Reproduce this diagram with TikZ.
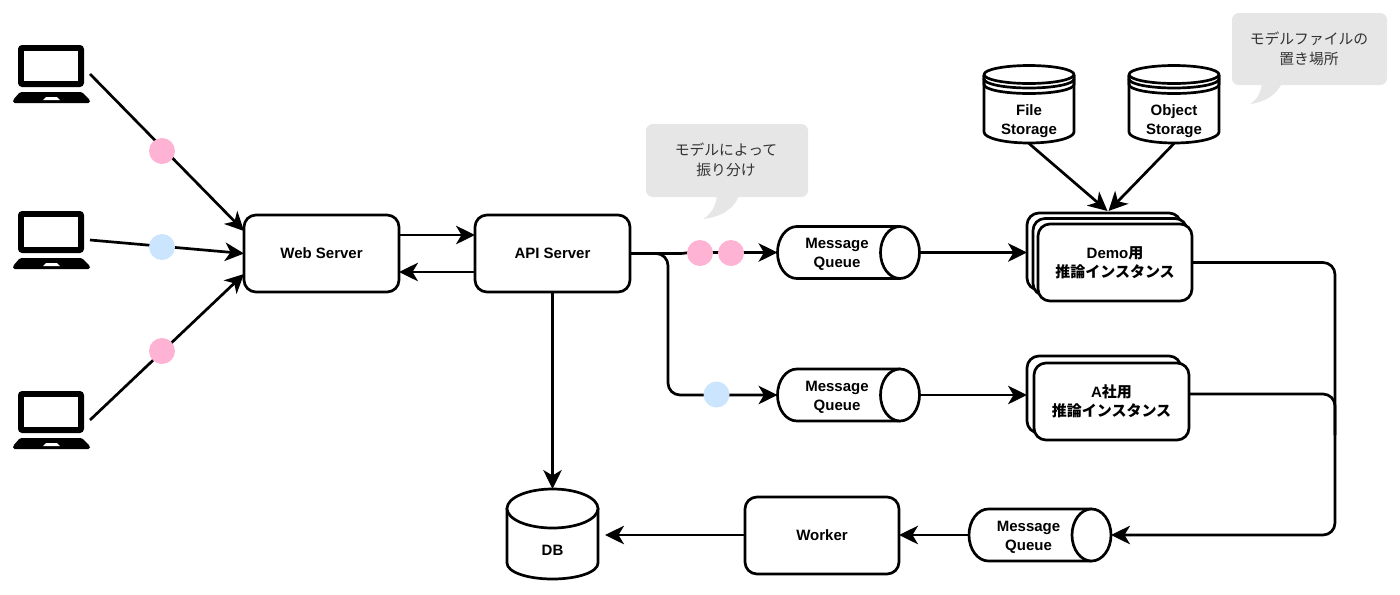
\documentclass[tikz,border=0pt]{standalone}
\usepackage{fontspec}
\setmainfont{Liberation Sans}
\newfontfamily\jp{Noto Sans CJK JP}
\usetikzlibrary{arrows.meta,calc}
\def\px{0.75pt}
\definecolor{pinkdot}{HTML}{FFB3D4}
\definecolor{bluedot}{HTML}{CCE5FF}
\definecolor{notegray}{HTML}{E6E6E6}
\definecolor{notetext}{HTML}{333333}
\tikzset{
  outline/.style={line width=2.7*\px,line join=round},
  wire/.style={outline,rounded corners=9pt,-{Stealth[length=19*\px,width=18.5*\px,inset=5.5*\px]}},
  plainwire/.style={outline,rounded corners=9pt},
  box/.style 2 args={outline,draw=black,fill=white,rectangle,rounded corners=9pt,inner sep=0,outer sep=0,
    minimum width=#1*\px,minimum height=#2*\px},
  ghost/.style 2 args={rectangle,inner sep=0,outer sep=0,minimum width=#1*\px,minimum height=#2*\px},
  caption/.style={font=\bfseries\fontsize{11.25}{14.25}\selectfont,align=center,inner sep=0},
  dot/.style={circle,draw=none,inner sep=0,outer sep=0,minimum size=26*\px},
  note/.style 2 args={rectangle,rounded corners=5pt,fill=notegray,inner sep=0,outer sep=0,
    minimum width=#1*\px,minimum height=#2*\px},
  notelabel/.style={font=\jp\fontsize{11.1}{15}\selectfont,text=notetext,align=center,inner sep=0},
}
% Laptop icon with an anchor node covering its extent
\newcommand{\laptop}[2]{%
  \begin{scope}[shift={(0,#2)}]
    \fill[black,rounded corners=3pt] (18,45) rectangle (84,87);
    \fill[white] (24,51) rectangle (78,81);
    \fill[black,rounded corners=1.2pt] (20,92) -- (82,92) -- (90,100) -- (90,103) -- (13,103) -- (13,100) -- cycle;
    \fill[white] (46,97) -- (57,97) -- (60,100) -- (43,100) -- cycle;
    \node[ghost={77}{58}] (#1) at (51.5,74) {};
  \end{scope}}
% Horizontal queue drum: centre (#2,#3), width 142, height 52
\newcommand{\mqueue}[3]{%
  \begin{scope}[shift={(#2,#3)}]
    \path[outline,draw=black,fill=white] (51.5,-26) -- (-51.5,-26)
      .. controls (-62.3,-26) and (-71,-14.4) .. (-71,0)
      .. controls (-71,14.4) and (-62.3,26) .. (-51.5,26) -- (51.5,26);
    \draw[outline,fill=white] (51.5,0) ellipse [x radius=19.5*\px,y radius=26*\px];
    \node[ghost={142}{52}] (#1) at (0,0) {};
    \node[caption] (#1text) at (-11.5,0) [yshift=-1.5pt] {Message\\Queue};
  \end{scope}}
% Stacked-disk store: left edge #2, width 90, with a two-line caption
\newcommand{\store}[4]{%
  \begin{scope}[shift={(#2,0)}]
    \path[outline,draw=black,fill=white] (0,75) -- (0,132)
      .. controls (0,138) and (20,143) .. (45,143) .. controls (70,143) and (90,138) .. (90,132) -- (90,75);
    \draw[outline,fill=white] (45,74.5) ellipse [x radius=45*\px,y radius=9*\px];
    \draw[outline] (0,74.5) -- (0,79) .. controls (0,84) and (20,88) .. (45,88) .. controls (70,88) and (90,84) .. (90,79) -- (90,74.5);
    \draw[outline] (0,79) -- (0,84.5) .. controls (0,89.5) and (20,93.5) .. (45,93.5) .. controls (70,93.5) and (90,89.5) .. (90,84.5) -- (90,79);
    \node[ghost={90}{78}] (#1) at (45,104.5) {};
    \node[caption] (#1text) at (45,121) {#3\\#4};
  \end{scope}}
\begin{document}
\begin{tikzpicture}[x=0.75pt,y=-0.75pt]
\useasboundingbox (0,0) rectangle (1400,594);

% clients
\laptop{client1}{0}
\laptop{client2}{166}
\laptop{client3}{346}

% servers
\node[box={155}{77},caption] (web) at (321.5,253.5) {Web Server};
\node[box={155}{77},caption] (api) at (552.5,253.5) {API Server};
\node[box={154}{77},caption] (worker) at (822,535.5) {Worker};

% queues
\mqueue{mq1}{848.5}{252.5}
\mqueue{mq2}{848.5}{395}
\mqueue{mq3}{1040}{535}

% inference instance stacks
\node[box={154}{77}] (demoback) at (1104,251.5) {};
\node[box={154}{77}] (demomid) at (1110,257) {};
\node[box={154}{77},caption] (demo) at (1115,262.5) {Demo{\jp 用}\\{\jp 推論インスタンス}};
\node[box={154}{77}] (aback) at (1104,394.5) {};
\node[box={155}{77},caption] (acorp) at (1111.5,401.5) {A{\jp 社用}\\{\jp 推論インスタンス}};

% model storage
\store{filestore}{984}{File}{Storage}
\store{objectstore}{1129}{Object}{Storage}

% database
\path[outline,draw=black,fill=white] (507,508) -- (507,563)
  .. controls (507,572) and (527,579) .. (552.5,579)
  .. controls (578,579) and (598,572) .. (598,563) -- (598,508);
\draw[outline,fill=white] (552.5,508.5) ellipse [x radius=45.5*\px,y radius=19.5*\px];
\node[ghost={91}{90}] (db) at (552.5,534) {};
\node[caption] (dbtext) at (552.5,550) {DB};

% notes
\fill[notegray] (717,195) .. controls (716,207) and (710,215) .. (703,219)
  .. controls (722,217) and (735,208) .. (739,195) -- cycle;
\node[note={162}{73}] (routing) at (727,160.5) {};
\node[notelabel] (routingtext) at (726,160) {モデルによって\\振り分け};
\fill[notegray] (1262,83) .. controls (1261,92) and (1257,100) .. (1250,104)
  .. controls (1266,102) and (1277,94) .. (1282,83) -- cycle;
\node[note={155}{72}] (location) at (1309.5,49) {};
\node[notelabel] (locationtext) at (1309,49) {モデルファイルの\\置き場所};

% client traffic
\draw[wire] (client1.east) -- ($(web.north west)+(0,16)$);
\draw[wire] (client2.east) -- (web.west);
\draw[wire] (client3.east) -- ($(web.south west)+(0,-18)$);

% server links
\draw[wire] ($(web.north east)+(0,20)$) -- ($(api.north west)+(0,20)$);
\draw[wire] ($(api.south west)+(0,-20)$) -- ($(web.south east)+(0,-20)$);
\draw[wire] (api.south) -- (db.north);

% routing to the queues
\draw[wire,rounded corners=0pt] (api.east) -- ($(api.east)+(50,0)$)
  .. controls ($(api.east)+(55,0)$) and ($(api.east)+(56,-1)$) .. ($(api.east)+(60,-1)$) -- (mq1.west);
\coordinate (branch) at ($(api.east)+(38,0)$);
\draw[wire] (api.east) -- (branch) |- (mq2.west);

% queues to the instances
\draw[wire] (mq1.east) -- (mq1.east -| demoback.west);
\draw[wire] (mq2.east) -- (mq2.east -| aback.west);

% model files into the demo stack
\draw[wire] (filestore.south) -- ($(demoback.north)+(3.5,-2)$);
\draw[wire] (objectstore.south) -- ($(demoback.north)+(4.5,-2)$);

% results back through the shared queue
\coordinate (returnbus) at (1335,535);
\draw[wire] (demo.east) -| (returnbus) -- (mq3.east);
\draw[plainwire] ($(acorp.east)+(0,-7.5)$) -| ($(returnbus)+(0,-100)$);
\draw[wire] (mq3.west) -- (mq3.west -| worker.east);
\draw[wire] (mq3.west -| worker.west) -- ($(db.east)+(7,1)$);

% request markers
\node[dot,fill=pinkdot] (req1) at (162,151) {};
\node[dot,fill=bluedot] (req2) at (162,247) {};
\node[dot,fill=pinkdot] (req3) at (162,351) {};
\node[dot,fill=pinkdot] (req4) at (700,253) {};
\node[dot,fill=pinkdot] (req5) at (731,253) {};
\node[dot,fill=bluedot] (req6) at (716.5,394.5) {};
\end{tikzpicture}
\end{document}
